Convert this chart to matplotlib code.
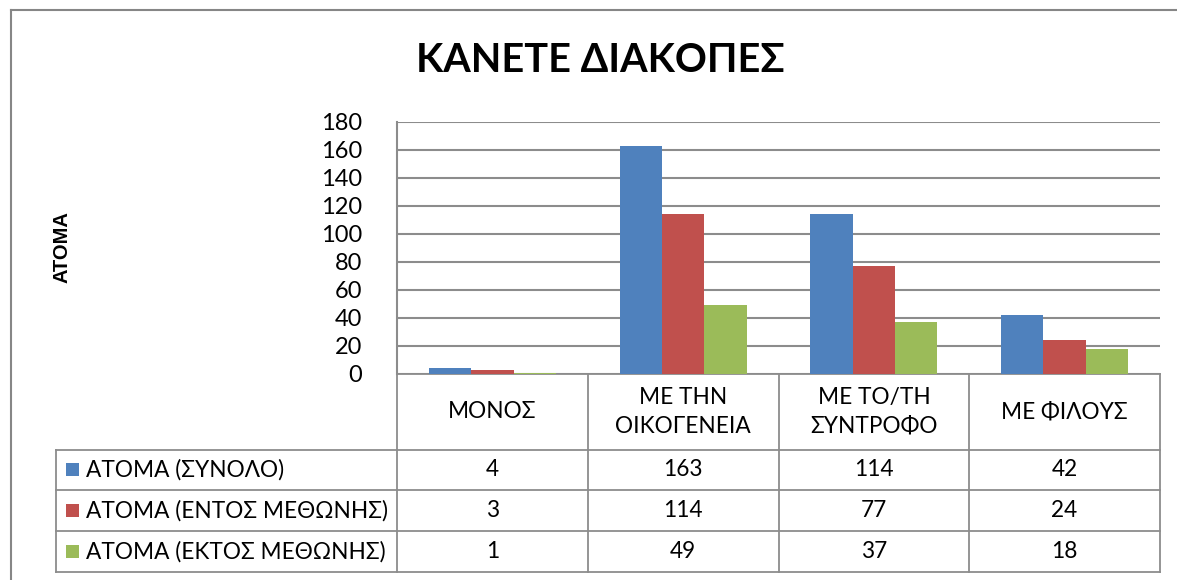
import matplotlib
matplotlib.use("Agg")
import matplotlib.pyplot as plt
from matplotlib.patches import Rectangle
import numpy as np

# ── data ──────────────────────────────────────────────────────────────────────
TITLE = "ΚΑΝΕΤΕ ΔΙΑΚΟΠΕΣ"
Y_LABEL = "ΑΤΟΜΑ"
categories = ["ΜΟΝΟΣ", "ΜΕ ΤΗΝ\nΟΙΚΟΓΕΝΕΙΑ", "ΜΕ ΤΟ/ΤΗ\nΣΥΝΤΡΟΦΟ", "ΜΕ ΦΙΛΟΥΣ"]
series_names = ["ΑΤΟΜΑ (ΣΥΝΟΛΟ)", "ΑΤΟΜΑ (ΕΝΤΟΣ ΜΕΘΩΝΗΣ)", "ΑΤΟΜΑ (ΕΚΤΟΣ ΜΕΘΩΝΗΣ)"]
total = [4, 163, 114, 42]
inside = [3, 114, 77, 24]
outside = [1, 49, 37, 18]
y_ticks = list(range(0, 181, 20))

# ── style ─────────────────────────────────────────────────────────────────────
BLUE = "#4F81BD"
RED = "#C0504D"
GREEN = "#9BBB59"
GRID = "#8C8C8C"
BORDER = "#868686"
colors = [BLUE, RED, GREEN]

plt.rcParams["font.family"] = ["Lato", "DejaVu Sans"]

W, H = 1177, 580
fig = plt.figure(figsize=(W / 100, H / 100), dpi=100)
fig.patch.set_facecolor("white")

# canvas in pixel units for the frame and data table
cv = fig.add_axes([0, 0, 1, 1])
cv.set_xlim(0, W)
cv.set_ylim(H, 0)
cv.axis("off")

# plot area geometry (pixels)
PX0, PX1 = 397, 1160
PY_TOP, PY_BOT = 122, 374
ax = fig.add_axes([PX0 / W, 1 - PY_BOT / H, (PX1 - PX0) / W, (PY_BOT - PY_TOP) / H])

series = [total, inside, outside]
x = np.arange(len(categories))
bw = 1 / 4.5
for i, (vals, c) in enumerate(zip(series, colors)):
    ax.bar(x + (i - 1) * bw, vals, width=bw, color=c, zorder=3)

ax.set_xlim(-0.5, len(categories) - 0.5)
ax.set_ylim(0, 180)
ax.set_yticks(y_ticks)
ax.set_yticklabels([str(t) for t in y_ticks], fontsize=17)
ax.tick_params(axis="y", length=0, pad=25)
ax.set_xticks([])
ax.grid(axis="y", color=GRID, linewidth=1.5, zorder=0)
for s in ["top", "right", "bottom"]:
    ax.spines[s].set_visible(False)
ax.spines["left"].set_color(GRID)
ax.spines["left"].set_linewidth(1.5)

# title and axis label
cv.text(600, 60, TITLE, ha="center", va="center", fontsize=28.5, fontweight="bold")
cv.text(62, 247, Y_LABEL, ha="center", va="center", rotation=90, fontsize=14.5,
        fontweight="bold", family=["Liberation Sans", "DejaVu Sans"])

# outer chart frame (cropped at right and bottom)
cv.plot([11, W], [10, 10], color=BORDER, lw=1.5)
cv.plot([11, 11], [10, H], color=BORDER, lw=1.5)

# ── data table ────────────────────────────────────────────────────────────────
LEG_X0 = 56
colw = (PX1 - PX0) / len(categories)
row_edges = [374, 450, 490, 531, 572]
col_edges = [PX0 + k * colw for k in range(len(categories) + 1)]

lw = 1.3
cv.plot([PX0, PX1], [row_edges[0], row_edges[0]], color=GRID, lw=lw)
for yv in row_edges[1:]:
    cv.plot([LEG_X0, PX1], [yv, yv], color=GRID, lw=lw)
for xv in col_edges:
    cv.plot([xv, xv], [row_edges[0], row_edges[-1]], color=GRID, lw=lw)
cv.plot([LEG_X0, LEG_X0], [row_edges[1], row_edges[-1]], color=GRID, lw=lw)

FS = 16.3
for j, cat in enumerate(categories):
    cx = (col_edges[j] + col_edges[j + 1]) / 2
    cy = (row_edges[0] + row_edges[1]) / 2
    cv.text(cx, cy, cat, ha="center", va="center", fontsize=FS, linespacing=1.45)

for i, (name, vals, c) in enumerate(zip(series_names, series, colors)):
    cy = (row_edges[i + 1] + row_edges[i + 2]) / 2
    cv.add_patch(Rectangle((66, cy - 7), 13, 13, facecolor=c, edgecolor="none"))
    cv.text(86, cy, name, ha="left", va="center", fontsize=FS)
    for j, v in enumerate(vals):
        cx = (col_edges[j] + col_edges[j + 1]) / 2
        cv.text(cx, cy, str(v), ha="center", va="center", fontsize=FS)

fig.savefig("out.png", dpi=100, facecolor="white")
